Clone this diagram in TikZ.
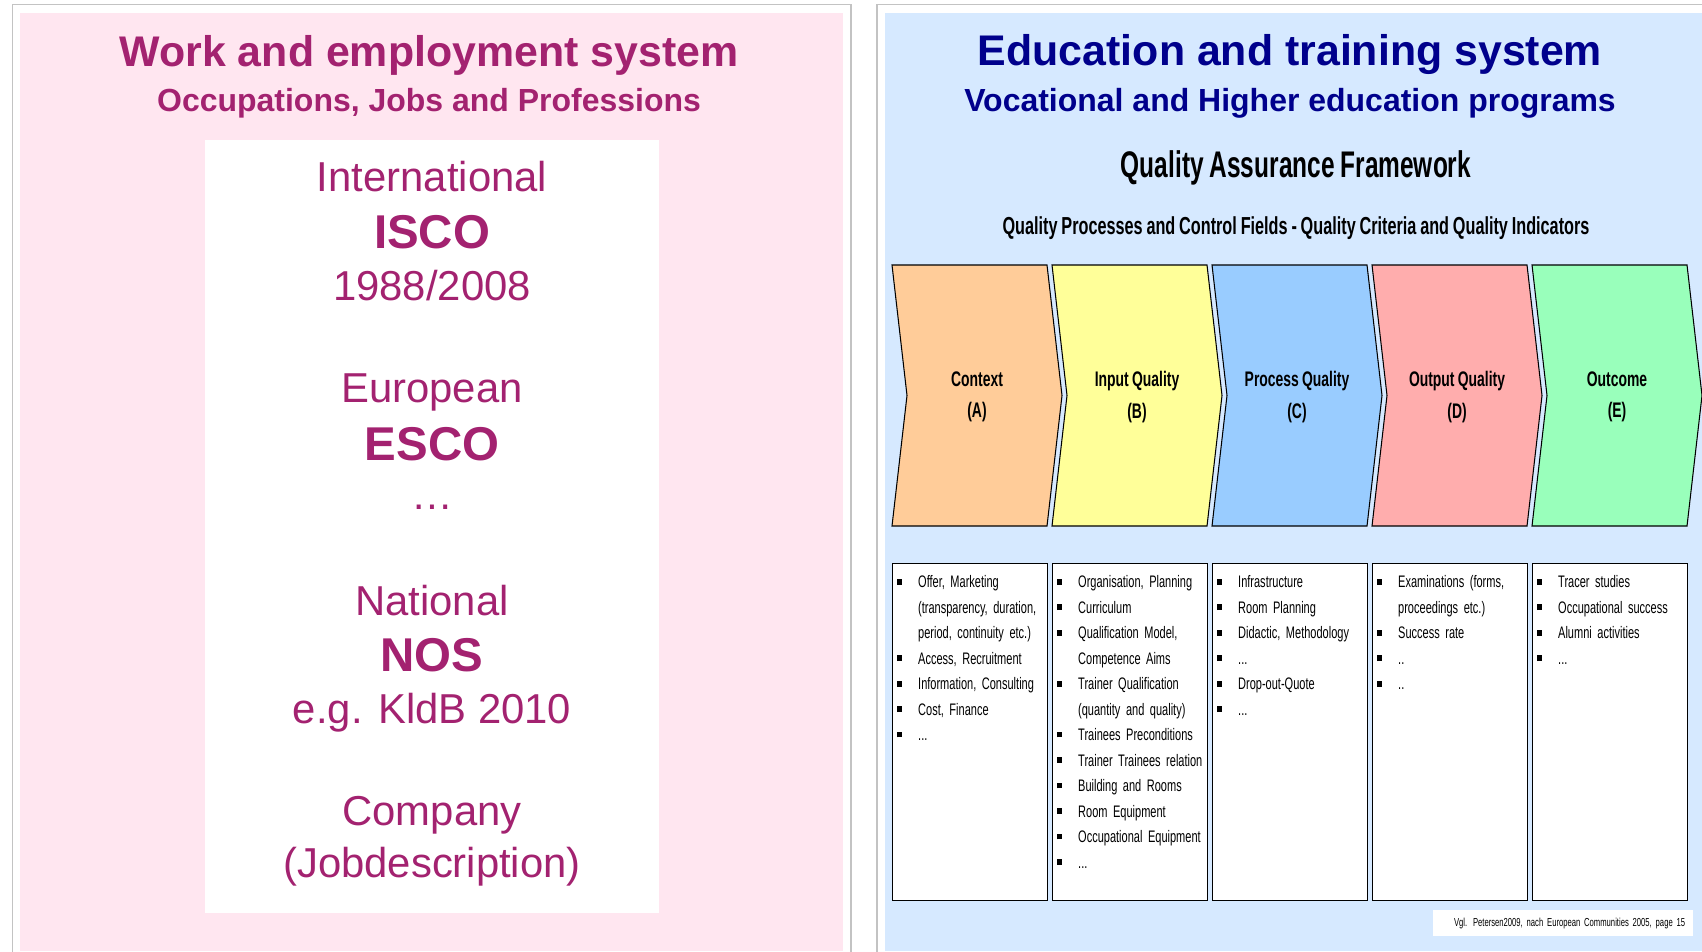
\documentclass[tikz,border=0pt]{standalone}
\usepackage{fontspec}
\setmainfont{Liberation Sans}
\newfontfamily\narrowfont[FakeStretch=0.66, WordSpace=0.85]{Liberation Sans}
\usetikzlibrary{positioning}

\definecolor{workpink}{RGB}{255,230,240}
\definecolor{workpurple}{RGB}{163,34,112}
\definecolor{edublue}{RGB}{214,233,255}
\definecolor{edunavy}{RGB}{0,0,140}
\definecolor{panelgray}{RGB}{195,195,195}
\definecolor{ctxcol}{RGB}{255,204,153}
\definecolor{inpcol}{RGB}{255,255,153}
\definecolor{prccol}{RGB}{153,204,255}
\definecolor{outcol}{RGB}{255,173,173}
\definecolor{oucol}{RGB}{153,255,187}

\newenvironment{qlist}{\begin{list}{\rule[1.8pt]{2.6pt}{3.2pt}}{\setlength{\leftmargin}{14.7pt}\setlength{\labelwidth}{5.2pt}\setlength{\labelsep}{9.5pt}\setlength{\itemsep}{0pt}\setlength{\parsep}{0pt}\setlength{\topsep}{0pt}\setlength{\partopsep}{0pt}}}{\end{list}}

\tikzset{frame/.style={draw=panelgray, line width=0.9pt}}
\tikzset{bigtitle/.style={font=\bfseries\fontsize{24.4}{28}\selectfont, inner sep=0}}
\tikzset{subtitle/.style={font=\bfseries\fontsize{18.2}{22}\selectfont, inner sep=0}}
\tikzset{boxtxt/.style={text=workpurple, font=\fontsize{23.8}{28}\selectfont, inner sep=0}}
\tikzset{boxbold/.style={text=workpurple, font=\bfseries\fontsize{27}{32}\selectfont, inner sep=0}}
\tikzset{chevron/.style={draw=black, line width=0.6pt, line join=miter}}
\tikzset{chevlabel/.style={font=\narrowfont\bfseries\fontsize{12}{18}\selectfont, align=center, inner sep=0}}
\tikzset{listbox/.style={draw=black, line width=0.6pt, fill=white, anchor=north west, minimum width=3.1cm, minimum height=6.74cm, inner sep=0}}
\tikzset{listtext/.style={inner sep=0, text width=100pt, align=left, font=\narrowfont\fontsize{9.5}{14.5}\selectfont}}

\begin{document}
\begin{tikzpicture}[x=0.02cm, y=-0.02cm]
\useasboundingbox (0,0) rectangle (1702,951);
\clip (0,0) rectangle (1702,951);
\fill[white] (0,0) rectangle (1702,951);

% left panel
\draw[frame] (12.5,4.5) rectangle (851,1000);
\fill[workpink] (20,12.5) rectangle (843,951);
\fill[white] (205,140) rectangle (659,913);
\node[bigtitle, text=workpurple] (worktitle) at (429,55) {Work and employment system};
\node[subtitle, text=workpurple] (worksub) at (429,103) {Occupations, Jobs and Professions};

\node[boxtxt] (intl) at (432,177) {International};
\node[boxbold] (isco) at (432,232) {ISCO};
\node[boxtxt] (iscoyr) at (432,286) {1988/2008};
\node[boxtxt] (euro) at (432,392) {European};
\node[boxbold] (esco) at (432,444) {ESCO};
\node[boxtxt, anchor=base] (dots) at (432,509) {\dots};
\node[boxtxt] (natl) at (432,601) {National};
\node[boxbold] (nos) at (432,655) {NOS};
\node[boxtxt] (kldb) at (432,713) {e.g. KldB 2010};
\node[boxtxt] (comp) at (432,815) {Company};
\node[boxtxt] (jobd) at (432,867) {(Jobdescription)};

% right panel
\draw[frame] (877,4.5) rectangle (1720,1000);
\fill[edublue] (884.5,12.5) rectangle (1702,951);
\node[bigtitle, text=edunavy] (edutitle) at (1290,55) {Education and training system};
\node[subtitle, text=edunavy] (edusub) at (1290,103) {Vocational and Higher education programs};
\node[font=\narrowfont\bfseries\fontsize{21.1}{24}\selectfont, inner sep=0] (qaf) at (1296,168) {Quality Assurance Framework};
\node[font=\narrowfont\bfseries\fontsize{14}{16}\selectfont, inner sep=0] (qafsub) at (1296,228) {Quality Processes and Control Fields - Quality Criteria and Quality Indicators};

\foreach \x/\col/\name/\lt/\id in {892/ctxcol/Context/A/a, 1052/inpcol/Input Quality/B/b, 1212/prccol/Process Quality/C/c, 1372/outcol/Output Quality/D/d, 1532/oucol/Outcome/E/e}{
  \draw[chevron, fill=\col] (\x,265) -- ++(155,0) -- ++(15,130.5) -- ++(-15,130.5) -- ++(-155,0) -- ++(15,-130.5) -- cycle;
  \node[chevlabel] (lab\id) at (\x+85,397) {\name\\(\lt)};
  \node[listbox] (box\id) at (\x,563) {};
}

\node[listtext, below right=-0.6pt and 0pt of boxa.north west] (lista) {\begin{qlist}
\item Offer, Marketing\newline (transparency, duration,\newline period, continuity etc.)
\item Access, Recruitment
\item Information, Consulting
\item Cost, Finance
\item ...
\end{qlist}};
\node[listtext, below right=-0.6pt and 0pt of boxb.north west] (listb) {\begin{qlist}
\item Organisation, Planning
\item Curriculum
\item Qualification Model,\newline Competence Aims
\item Trainer Qualification\newline (quantity and quality)
\item Trainees Preconditions
\item Trainer Trainees relation
\item Building and Rooms
\item Room Equipment
\item Occupational Equipment
\item ...
\end{qlist}};
\node[listtext, below right=-0.6pt and 0pt of boxc.north west] (listc) {\begin{qlist}
\item Infrastructure
\item Room Planning
\item Didactic, Methodology
\item ...
\item Drop-out-Quote
\item ...
\end{qlist}};
\node[listtext, below right=-0.6pt and 0pt of boxd.north west] (listd) {\begin{qlist}
\item Examinations (forms,\newline proceedings etc.)
\item Success rate
\item ..
\item ..
\end{qlist}};
\node[listtext, below right=-0.6pt and 0pt of boxe.north west] (liste) {\begin{qlist}
\item Tracer studies
\item Occupational success
\item Alumni activities
\item ...
\end{qlist}};

\node[fill=white, anchor=east, minimum height=0.52cm, text width=4.9cm, inner xsep=0.15cm, align=right, font=\narrowfont\fontsize{6.6}{8}\selectfont] (source) at (1693,923) {Vgl. Petersen2009, nach European Communities 2005, page 15};
\end{tikzpicture}
\end{document}
